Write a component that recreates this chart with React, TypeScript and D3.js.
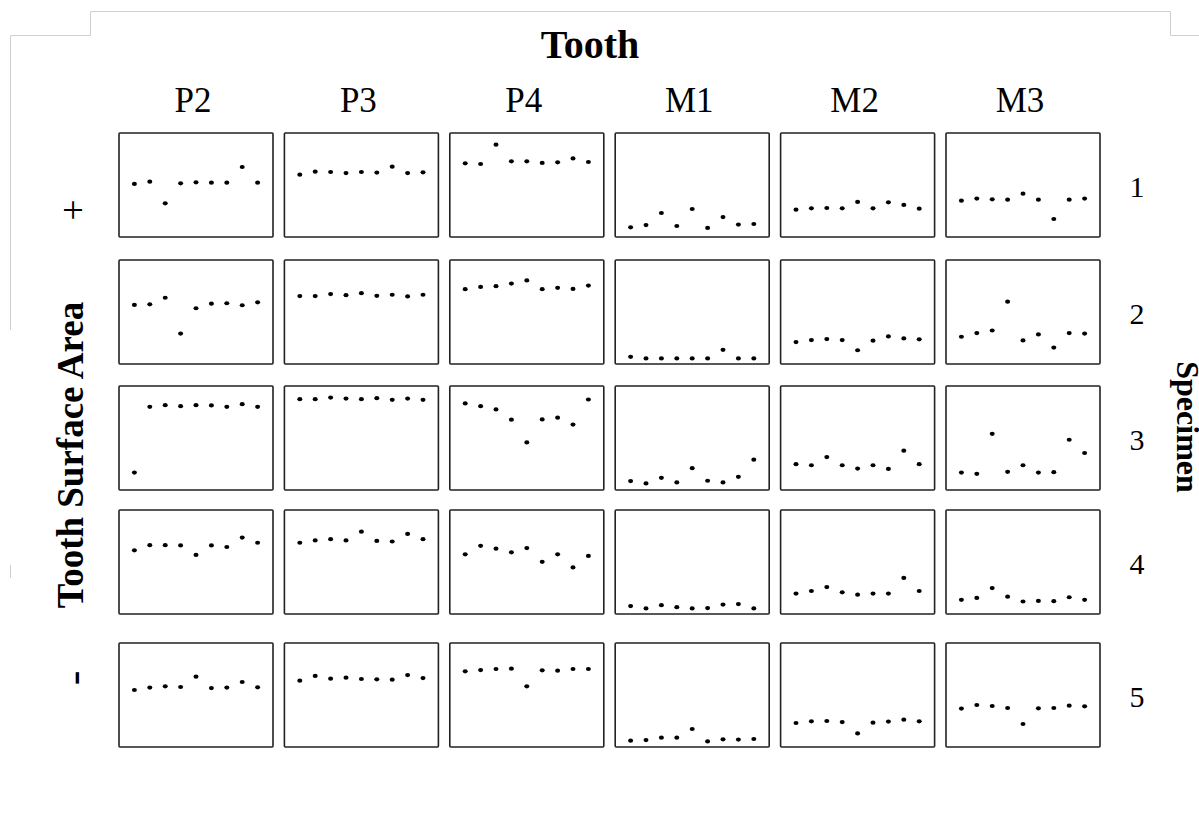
import React from "react";
import * as d3 from "d3";

const teeth = ["P2", "P3", "P4", "M1", "M2", "M3"];
const specimens = ["1", "2", "3", "4", "5"];

// relative tooth surface area (panel height %) for 9 measurements per tooth
const specimen1 = [
  [51.0, 53.2, 32.4, 51.6, 52.6, 52.2, 52.2, 67.3, 52.2],
  [59.9, 62.8, 62.5, 61.5, 62.5, 61.9, 67.6, 61.5, 62.2],
  [70.8, 70.2, 88.8, 72.8, 72.8, 71.2, 71.8, 75.6, 72.1],
  [9.3, 11.5, 23.1, 10.6, 26.9, 8.7, 19.2, 11.9, 12.5],
  [26.3, 27.6, 27.9, 27.6, 33.7, 27.6, 33.3, 30.8, 27.2],
  [34.9, 36.9, 36.2, 35.9, 41.7, 35.9, 17.3, 35.9, 36.9],
];
const specimen2 = [
  [56.8, 57.4, 63.7, 29.3, 53.6, 58.0, 58.4, 56.5, 59.3],
  [65.3, 65.3, 67.2, 66.2, 68.1, 65.6, 66.6, 65.0, 66.6],
  [71.9, 74.1, 74.8, 77.3, 80.4, 71.9, 73.2, 72.2, 75.4],
  [6.9, 5.4, 5.4, 5.4, 5.4, 5.4, 13.6, 5.4, 5.4],
  [21.1, 23.0, 24.0, 23.0, 13.2, 22.4, 26.5, 24.6, 23.7],
  [26.2, 29.7, 32.2, 59.9, 22.7, 28.4, 15.8, 29.7, 29.3],
];
const specimen3 = [
  [16.8, 80.0, 81.6, 80.6, 81.6, 81.3, 80.0, 82.5, 80.0],
  [87.3, 87.3, 88.9, 87.9, 87.3, 88.3, 86.7, 87.9, 86.7],
  [83.2, 80.6, 77.5, 67.6, 45.7, 67.9, 69.5, 62.9, 87.0],
  [8.6, 6.3, 11.7, 7.3, 21.0, 8.9, 7.3, 12.7, 29.2],
  [24.8, 23.8, 31.7, 23.8, 20.6, 23.8, 20.3, 37.8, 24.8],
  [16.8, 15.6, 54.0, 17.5, 23.8, 16.8, 17.1, 48.3, 35.6],
];
const specimen4 = [
  [61.2, 66.2, 66.2, 65.9, 56.8, 65.9, 64.4, 73.5, 68.5],
  [68.5, 70.7, 71.9, 70.7, 79.2, 70.3, 69.7, 77.0, 71.9],
  [57.4, 65.6, 62.8, 59.3, 63.4, 50.2, 57.4, 44.8, 55.8],
  [7.6, 5.4, 8.5, 6.6, 5.4, 5.7, 9.1, 9.5, 5.4],
  [19.6, 22.1, 25.9, 20.8, 18.6, 19.6, 19.6, 34.7, 22.1],
  [13.6, 15.5, 24.9, 16.7, 12.0, 12.6, 12.3, 16.1, 13.6],
];
const specimen5 = [
  [54.8, 57.1, 58.3, 57.7, 67.6, 56.7, 57.1, 62.5, 57.4],
  [63.8, 68.3, 65.7, 66.7, 65.4, 65.1, 64.7, 69.2, 66.3],
  [72.8, 74.0, 75.0, 75.3, 58.3, 73.7, 73.4, 75.0, 75.0],
  [6.1, 6.7, 9.0, 9.0, 17.3, 5.4, 7.4, 7.1, 7.7],
  [23.1, 24.7, 25.0, 24.0, 13.1, 23.4, 24.4, 26.3, 24.7],
  [36.9, 40.4, 39.4, 37.5, 22.1, 37.2, 37.5, 39.7, 39.1],
];
const allSpecimens = [specimen1, specimen2, specimen3, specimen4, specimen5];

const W = 1199;
const H = 837;
const panelW = 154;
const panelH = 104;
const colStep = 165.4;
const col0 = 119;
const rowTops = [133, 260, 386, 510, 643];
const serif = "'Liberation Serif', 'Times New Roman', serif";

export default function App() {
  const x = d3.scaleLinear().domain([0, 10]).range([0, panelW]);
  const y = d3.scaleLinear().domain([0, 100]).range([panelH, 0]);
  const colX = (i: number) => col0 + i * colStep;

  return (
    <svg
      width={W}
      height={H}
      style={{ position: "absolute", left: 0, top: 0, background: "#fff" }}
      fontFamily={serif}
    >
      {/* grey frame */}
      <g stroke="#cfcfcf" strokeWidth={1} fill="none">
        <path d="M10.5,330 V35.5 H90.5 V11.5 H1170.5 V35.5 H1199" />
        <path d="M10.5,565 V578" />
      </g>

      <text x={590} y={58} textAnchor="middle" fontSize={40} fontWeight="bold">
        Tooth
      </text>

      {teeth.map((t, i) => (
        <text key={t} x={colX(i) + panelW / 2 - 3} y={112} textAnchor="middle" fontSize={35}>
          {t}
        </text>
      ))}

      {specimens.map((s, r) => (
        <text key={s} x={1137} y={rowTops[r] + panelH / 2 + 12} textAnchor="middle" fontSize={30}>
          {s}
        </text>
      ))}

      <text
        transform={`translate(83,455) rotate(-90)`}
        textAnchor="middle"
        fontSize={37}
        fontWeight="bold"
      >
        Tooth Surface Area
      </text>
      <text transform={`translate(86,210) rotate(-90)`} textAnchor="middle" fontSize={38}>
        +
      </text>
      <text transform={`translate(88,678) rotate(-90)`} textAnchor="middle" fontSize={44}>
        -
      </text>

      <text
        transform={`translate(1177,427) rotate(90)`}
        textAnchor="middle"
        fontSize={32}
        fontWeight="bold"
      >
        Specimen
      </text>

      {allSpecimens.map((spec, r) =>
        spec.map((vals, c) => (
          <g key={`${r}-${c}`} transform={`translate(${colX(c)},${rowTops[r]})`}>
            <rect
              x={0}
              y={0}
              width={panelW}
              height={panelH}
              fill="none"
              stroke="#222"
              strokeWidth={1.6}
              rx={1}
            />
            {vals.map((v, k) => (
              <ellipse key={k} cx={x(k + 1)} cy={y(v)} rx={2.5} ry={2.1} fill="#000" />
            ))}
          </g>
        ))
      )}
    </svg>
  );
}
